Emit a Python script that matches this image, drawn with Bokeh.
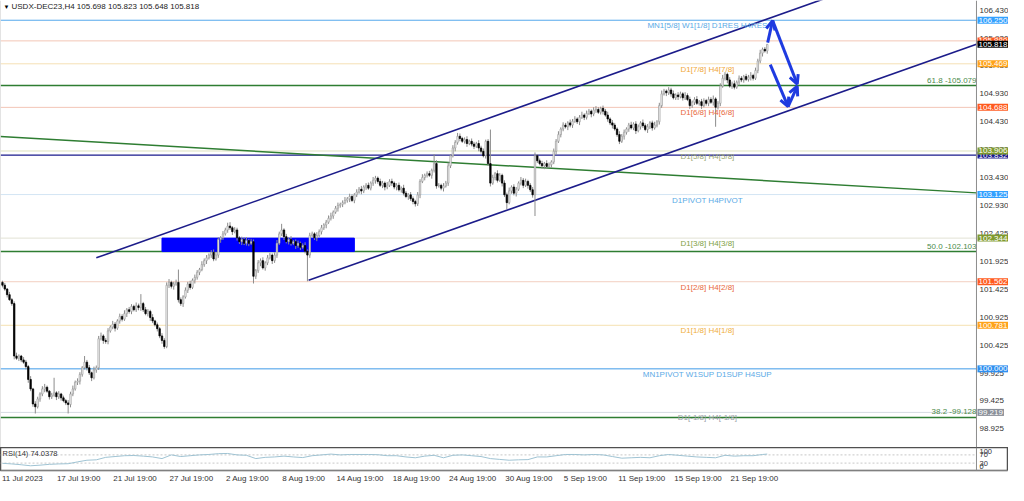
import numpy as np
from bokeh.plotting import figure
from bokeh.models import (ColumnDataSource, Range1d, FixedTicker, Label, Arrow, OpenHead, Span)
from bokeh.layouts import column
from bokeh.embed import file_html
from bokeh.resources import INLINE
from bokeh.core.properties import value

# ---------------- data ----------------
first_open = 101.55
closes = [
    101.50,101.43,101.33,101.24,101.17,100.23,100.19,100.23,100.16,100.12,100.04,99.81,99.64,99.37,99.32,99.46,99.55,99.64,99.67,99.60,
    99.50,99.53,99.57,99.50,99.55,99.48,99.43,99.39,99.36,99.55,99.64,99.76,99.78,99.90,100.02,100.12,100.02,99.93,99.84,99.98,
    100.02,100.54,100.59,100.51,100.49,100.68,100.75,100.80,100.73,100.86,100.94,100.89,100.99,101.06,101.03,101.12,101.06,101.13,101.10,101.17,
    101.06,100.99,101.03,100.92,100.86,100.79,100.72,100.59,100.51,100.40,101.50,101.55,101.48,101.52,101.55,101.24,101.17,101.29,101.41,101.52,
    101.46,101.59,101.64,101.73,101.78,101.87,101.94,101.99,102.04,102.09,101.97,102.04,102.32,102.35,102.42,102.49,102.56,102.53,102.46,102.49,
    102.35,102.28,102.32,102.25,102.30,102.25,102.28,101.66,101.76,101.90,101.94,101.81,101.90,101.99,102.04,101.94,102.04,102.25,102.42,102.49,
    102.37,102.28,102.32,102.25,102.28,102.21,102.25,102.18,102.21,102.11,102.04,102.39,102.42,102.35,102.39,102.46,102.53,102.58,102.63,102.70,
    102.74,102.81,102.88,102.93,102.95,102.98,103.02,103.05,103.09,103.02,103.12,103.17,103.22,103.19,103.26,103.29,103.24,103.33,103.38,103.42,
    103.36,103.29,103.33,103.26,103.29,103.36,103.33,103.26,103.29,103.21,103.24,103.15,103.09,103.12,103.05,103.00,102.96,103.12,103.36,103.43,
    103.47,103.50,103.47,103.56,103.68,103.28,103.29,103.24,103.28,103.33,103.64,103.82,103.96,104.06,104.17,104.13,104.08,104.11,104.04,104.08,
    104.03,103.99,104.04,103.96,103.90,103.82,104.08,103.68,103.33,103.43,103.50,103.38,103.47,103.33,103.12,102.98,103.19,103.26,103.15,103.22,
    103.33,103.38,103.29,103.36,103.29,103.21,103.12,103.82,103.73,103.68,103.64,103.68,103.63,103.66,103.71,103.90,104.08,104.20,104.30,104.37,
    104.34,104.41,104.37,104.44,104.48,104.43,104.51,104.55,104.51,104.58,104.62,104.57,104.64,104.65,104.60,104.67,104.62,104.55,104.48,104.41,
    104.37,104.30,104.20,104.08,104.17,104.24,104.30,104.37,104.32,104.39,104.27,104.34,104.41,104.36,104.29,104.34,104.41,104.32,104.37,104.43,
    104.72,104.93,104.98,104.95,105.00,104.93,104.86,104.91,104.88,104.93,104.86,104.90,104.83,104.72,104.78,104.83,104.76,104.79,104.72,104.81,
    104.76,104.83,104.78,104.84,104.69,104.76,105.07,105.21,105.28,105.18,105.07,105.11,105.05,105.14,105.21,105.18,105.24,105.19,105.23,105.26,
    105.21,105.35,105.52,105.66,105.73,105.70,105.818,
]
upper_wick = [
    0.03,0.04,0.02,0.05,0.03,0.04,0.06,0.03,0.02,0.05,0.04,0.03,0.06,0.02,0.05,0.04,0.03,0.05,0.06,0.03,
    0.02,0.04,0.27,0.03,0.05,0.02,0.04,0.03,0.05,0.04,0.06,0.03,0.05,0.04,0.03,0.11,0.04,0.05,0.02,0.06,
    0.04,0.05,0.06,0.03,0.04,0.05,0.03,0.06,0.04,0.03,0.05,0.04,0.06,0.03,0.05,0.04,0.03,0.06,0.04,0.17,
    0.03,0.05,0.04,0.03,0.06,0.02,0.04,0.03,0.05,0.04,0.05,0.06,0.03,0.04,0.05,0.23,0.04,0.03,0.05,0.04,
    0.06,0.03,0.05,0.04,0.03,0.06,0.04,0.05,0.03,0.04,0.05,0.06,0.04,0.03,0.05,0.04,0.06,0.07,0.03,0.05,
    0.04,0.03,0.05,0.04,0.06,0.03,0.05,0.04,0.03,0.05,0.04,0.06,0.03,0.05,0.04,0.03,0.05,0.06,0.04,0.11,
    0.03,0.05,0.04,0.06,0.03,0.04,0.05,0.03,0.04,0.06,0.03,0.05,0.04,0.03,0.06,0.04,0.05,0.03,0.04,0.05,
    0.06,0.03,0.04,0.05,0.03,0.04,0.06,0.03,0.05,0.04,0.03,0.05,0.04,0.06,0.03,0.04,0.05,0.03,0.06,0.04,
    0.03,0.05,0.04,0.03,0.06,0.04,0.05,0.03,0.04,0.05,0.03,0.06,0.04,0.03,0.05,0.04,0.03,0.05,0.04,0.06,
    0.03,0.04,0.05,0.03,0.17,0.06,0.04,0.03,0.05,0.04,0.06,0.03,0.05,0.04,0.06,0.05,0.03,0.04,0.06,0.03,
    0.05,0.04,0.03,0.06,0.04,0.05,0.03,0.04,0.61,0.05,0.03,0.06,0.04,0.03,0.05,0.04,0.06,0.03,0.05,0.04,
    0.03,0.06,0.04,0.05,0.03,0.04,0.05,0.06,0.03,0.04,0.05,0.03,0.06,0.04,0.03,0.05,0.04,0.06,0.03,0.05,
    0.04,0.03,0.06,0.04,0.05,0.03,0.04,0.06,0.03,0.05,0.04,0.03,0.05,0.06,0.04,0.03,0.05,0.04,0.06,0.03,
    0.05,0.04,0.03,0.06,0.04,0.05,0.03,0.04,0.06,0.03,0.05,0.04,0.03,0.06,0.04,0.05,0.03,0.04,0.06,0.03,
    0.05,0.06,0.04,0.03,0.05,0.04,0.06,0.03,0.05,0.04,0.03,0.06,0.04,0.05,0.03,0.04,0.06,0.03,0.05,0.04,
    0.03,0.05,0.04,0.06,0.03,0.04,0.05,0.06,0.04,0.03,0.05,0.04,0.06,0.03,0.05,0.04,0.03,0.05,0.04,0.06,
    0.03,0.05,0.04,0.06,0.03,0.04,0.005,
]
lower_wick = [
    0.04,0.03,0.05,0.02,0.04,0.06,0.03,0.05,0.04,0.03,0.05,0.06,0.04,0.05,0.12,0.03,0.05,0.04,0.06,0.03,
    0.05,0.04,0.03,0.06,0.04,0.05,0.03,0.04,0.16,0.05,0.04,0.03,0.05,0.06,0.04,0.03,0.05,0.04,0.06,0.03,
    0.05,0.04,0.03,0.06,0.04,0.05,0.03,0.04,0.06,0.03,0.05,0.04,0.03,0.06,0.04,0.05,0.03,0.04,0.05,0.06,
    0.04,0.03,0.05,0.06,0.04,0.03,0.05,0.04,0.06,0.04,0.03,0.05,0.04,0.06,0.03,0.05,0.04,0.06,0.03,0.05,
    0.04,0.03,0.06,0.04,0.05,0.03,0.04,0.06,0.03,0.05,0.04,0.03,0.05,0.06,0.04,0.03,0.05,0.04,0.06,0.03,
    0.05,0.04,0.06,0.03,0.04,0.05,0.03,0.13,0.05,0.04,0.06,0.03,0.05,0.04,0.03,0.06,0.04,0.05,0.03,0.04,
    0.06,0.03,0.05,0.04,0.03,0.06,0.04,0.05,0.03,0.04,0.47,0.05,0.03,0.04,0.06,0.03,0.05,0.04,0.06,0.03,
    0.04,0.05,0.03,0.06,0.04,0.05,0.03,0.04,0.06,0.03,0.05,0.04,0.03,0.06,0.04,0.05,0.03,0.04,0.05,0.06,
    0.04,0.03,0.05,0.06,0.04,0.03,0.05,0.04,0.06,0.03,0.05,0.04,0.03,0.06,0.04,0.05,0.05,0.04,0.06,0.03,
    0.05,0.04,0.03,0.06,0.04,0.05,0.03,0.04,0.06,0.03,0.05,0.04,0.03,0.06,0.04,0.05,0.03,0.04,0.06,0.03,
    0.04,0.05,0.03,0.06,0.04,0.03,0.05,0.04,0.06,0.03,0.05,0.04,0.03,0.06,0.04,0.12,0.03,0.05,0.04,0.06,
    0.03,0.04,0.05,0.03,0.06,0.04,0.05,0.38,0.04,0.03,0.05,0.06,0.04,0.03,0.05,0.04,0.06,0.03,0.05,0.04,
    0.03,0.06,0.04,0.05,0.03,0.04,0.06,0.03,0.05,0.04,0.03,0.06,0.04,0.05,0.03,0.04,0.06,0.03,0.05,0.04,
    0.06,0.03,0.04,0.05,0.03,0.06,0.04,0.05,0.03,0.04,0.06,0.03,0.05,0.04,0.03,0.06,0.04,0.05,0.03,0.04,
    0.05,0.04,0.03,0.06,0.04,0.05,0.03,0.04,0.06,0.03,0.05,0.04,0.03,0.06,0.04,0.05,0.03,0.04,0.06,0.03,
    0.04,0.05,0.03,0.06,0.35,0.04,0.05,0.03,0.04,0.06,0.03,0.05,0.04,0.03,0.06,0.04,0.05,0.03,0.04,0.06,
    0.04,0.03,0.05,0.04,0.06,0.03,0.05,
]

rsi_values = [29,26,22,17,20,24,26,27,36,44, 46,58,62,66,67,64,60,52,70,62,
              66,70,72,76,77,70,68,52,58,60, 64,60,57,66,70,74,70,72,72,72,
              71,66,66,60,56,64,68,56,68,70, 66,62,52,48,44,46,47,60,60,66,
              72,72,70,72,70,62,54,56,58,56, 66,72,68,64,60,58,56,68,64,66,
              66,72,74.04]
rsi_bars = list(range(0, 325, 4)) + [326]
rsi_top_tick, rsi_mid_ticks, rsi_bottom_tick = [100], [70, 30], [0]

date_ticks = [0, 24, 48, 72, 96, 120, 144, 168, 192, 216, 240, 264, 288, 312]
date_labels = ["11 Jul 2023", "17 Jul 19:00", "21 Jul 19:00", "27 Jul 19:00", "2 Aug 19:00",
               "8 Aug 19:00", "14 Aug 19:00", "18 Aug 19:00", "24 Aug 19:00", "30 Aug 19:00",
               "5 Sep 19:00", "11 Sep 19:00", "15 Sep 19:00", "21 Sep 19:00"]

price_ticks = [106.430, 105.930, 105.430, 104.930, 104.430, 103.930, 103.430, 102.930,
               102.425, 101.925, 101.425, 100.925, 100.425, 99.925, 99.425, 98.925]

level_prices = [106.250, 105.880, 105.469, 104.688, 103.906, 103.125, 102.344, 101.562, 100.781, 100.000, 99.219]
level_labels = ["MN1[5/8] W1[1/8] D1RES H4RES", "", "D1[7/8] H4[7/8]", "D1[6/8] H4[6/8]", "D1[5/8] H4[5/8]",
                "D1PIVOT H4PIVOT", "D1[3/8] H4[3/8]", "D1[2/8] H4[2/8]", "D1[1/8] H4[1/8]",
                "MN1PIVOT W1SUP D1SUP H4SUP", "D1[-1/8] H4[-1/8]"]
level_line_colors = ["#55a8ec", "#f3c6b6", "#f6e0b4", "#f3c6b6", "#dfe2bf", "#d3e5f4",
                     "#e2e2d4", "#f2cfc0", "#f5e1b0", "#3f9ae8", "#d5dbe2"]
level_text_colors = ["#5aaae6", "#e8683c", "#f0a838", "#e8683c", "#9aa874", "#5aaae6",
                     "#7f9f45", "#e8683c", "#f0b040", "#5aaae6", "#9aa0a8"]
level_tag_colors = ["#33a1ff", "#ff5a1f", "#ffa31a", "#ff5a1f", "#7f9a2f", "#33a1ff",
                    "#7f9a2f", "#ff5a1f", "#ffa31a", "#2f8ff0", "#8a8f99"]

fib_prices = [105.079, 102.103, 99.128]
fib_labels = ["61.8 -105.079", "50.0 -102.103", "38.2 -99.128"]

support_price = 103.832
last_price = 105.818

zone_bars = [68, 150]
zone_prices = [102.103, 102.344]

upper_channel_x = [40, 360]
upper_channel_y = [101.99, 106.78]
lower_channel_x = [130.5, 415.2]
lower_channel_y = [101.587, 105.820]
trend_x = [-0.84, 415.2]
trend_y = [104.165, 103.155]

arrow_x0 = [326.2, 328.3, 327.3, 334.9]
arrow_y0 = [105.850, 106.243, 105.454, 104.700]
arrow_x1 = [328.3, 338.8, 334.9, 338.8]
arrow_y1 = [106.243, 105.106, 104.700, 105.066]

# chart geometry (bar-index units): left edge, price-scale divider, right edge
X_LEFT, X_DIV, X_RIGHT = -0.84, 415.2, 428.85
LABEL_SHIFT = 8.5  # date labels start at their bar (MT4 style), axis centres them

# ---------------- derived candle table ----------------
n = len(closes)
assert len(upper_wick) == n and len(lower_wick) == n
opens = [first_open] + closes[:-1]
o = np.array(opens); c = np.array(closes)
tops = np.maximum(o, c); bots = np.minimum(o, c)
highs = tops + np.array(upper_wick); lows = bots - np.array(lower_wick)
bull = c >= o
src = ColumnDataSource(dict(x=list(range(n)), top=tops, bottom=bots, high=highs, low=lows,
                            fill=np.where(bull, "#ffffff", "#000000"),
                            line=np.where(bull, "#9a9a9a", "#000000")))

FONT = "Liberation Sans"
xr = Range1d(X_LEFT, X_RIGHT)

main = figure(width=1008, height=447, x_range=xr, y_range=Range1d(98.59, 106.604),
              x_axis_location=None, y_axis_location=None, toolbar_location=None,
              output_backend="svg", min_border_left=0, min_border_right=0,
              min_border_top=0, min_border_bottom=0)
main.grid.visible = False
main.outline_line_color = None
main.background_fill_color = "white"
main.border_fill_color = "white"

main.add_layout(Span(location=X_LEFT, dimension="height", line_color="#c8c8c8", line_width=1))

# horizontal levels
n_lv = len(level_prices)
main.segment(x0=[X_LEFT] * n_lv, x1=[X_DIV] * n_lv, y0=level_prices, y1=level_prices,
             line_color=level_line_colors, line_width=1)
main.segment(x0=[X_LEFT] * 3, x1=[X_DIV] * 3, y0=fib_prices, y1=fib_prices,
             line_color="#2e7d32", line_width=1.5)
main.segment(x0=[X_LEFT], x1=[X_DIV], y0=[support_price], y1=[support_price],
             line_color="#1a1a8c", line_width=1.3)

# blue zone rectangle
main.quad(left=[zone_bars[0]], right=[zone_bars[1]], bottom=[zone_prices[0]], top=[zone_prices[1]],
          fill_color="#0000ff", line_color="#0000ff")

# trend lines
main.line(trend_x, trend_y, line_color="#2e7d32", line_width=1.5)
main.line(upper_channel_x, upper_channel_y, line_color="#1c1c8a", line_width=1.6)
main.line(lower_channel_x, lower_channel_y, line_color="#1c1c8a", line_width=1.6)

# candles
main.segment(x0="x", y0="low", x1="x", y1="high", source=src, line_color="#8c8c8c", line_width=1)
main.vbar(x="x", width=0.62, top="top", bottom="bottom", source=src,
          fill_color="fill", line_color="line", line_width=0.7)

# level texts
lsrc = ColumnDataSource(dict(x=[300.5] * n_lv, y=level_prices, t=level_labels, c=level_text_colors))
main.text(x="x", y="y", text="t", text_color="c", source=lsrc, text_align="center",
          text_baseline="top", y_offset=1, text_font=value(FONT), text_font_size="8px")
fsrc = ColumnDataSource(dict(x=[X_DIV] * 3, y=fib_prices, t=fib_labels))
main.text(x="x", y="y", text="t", source=fsrc, text_color="#4a8a4a", text_align="right",
          text_baseline="bottom", y_offset=-1, text_font=value(FONT), text_font_size="8px")

# arrows
for x0, y0, x1, y1 in zip(arrow_x0, arrow_y0, arrow_x1, arrow_y1):
    main.add_layout(Arrow(x_start=x0, y_start=y0, x_end=x1, y_end=y1,
                          line_color="#1f3be0", line_width=3,
                          end=OpenHead(size=9, line_color="#1f3be0", line_width=3)))

# price scale (right side): divider, tick labels, coloured tags
main.add_layout(Span(location=X_DIV, dimension="height", line_color="#8c8c8c", line_width=1))
psrc = ColumnDataSource(dict(x=[X_DIV] * len(price_ticks), y=price_ticks,
                             t=["%.3f" % v for v in price_ticks]))
main.text(x="x", y="y", text="t", source=psrc, x_offset=3, text_align="left",
          text_baseline="middle", text_color="#333333", text_font=value(FONT), text_font_size="8px")


def tag(pr, bg, txt):
    main.add_layout(Label(x=X_DIV, y=pr, x_offset=1, text=txt, text_align="left",
                          text_baseline="middle", text_color="white", text_font=FONT,
                          text_font_size="8px", background_fill_color=bg, padding=1))


tag(support_price, "#1a1a8c", "%.3f" % support_price)
for pr, bg in zip(level_prices, level_tag_colors):
    tag(pr, bg, "%.3f" % pr)
tag(last_price, "#000000", "%.3f" % last_price)

main.add_layout(Label(x=X_LEFT, y=106.604, x_offset=3, y_offset=-3, text="\u25bc",
                      text_baseline="top", text_font=FONT, text_font_size="6px", text_color="#000000"))
main.add_layout(Label(x=X_LEFT, y=106.604, x_offset=11, y_offset=-1,
                      text="USDX-DEC23,H4  105.698 105.823 105.648 105.818",
                      text_baseline="top", text_font=FONT, text_font_size="8px", text_color="#222222"))

# ---------------- RSI panel ----------------
rsi = figure(width=1008, height=38, x_range=xr, y_range=Range1d(-6, 106),
             y_axis_location=None, toolbar_location=None, output_backend="svg",
             min_border_left=0, min_border_right=0, min_border_top=0, min_border_bottom=0)
rsi.grid.visible = False
rsi.outline_line_color = "#505050"
rsi.outline_line_width = 1.5
rsi.segment(x0=[X_LEFT, X_LEFT], x1=[X_DIV, X_DIV], y0=[70, 30], y1=[70, 30],
            line_color="#c8c8c8", line_width=1, line_dash="2 2")
rsi.add_layout(Span(location=X_DIV, dimension="height", line_color="#8c8c8c", line_width=1))
rsi.line(rsi_bars, rsi_values, line_color="#9fc3d3", line_width=1)
rsi.add_layout(Label(x=X_LEFT, y=106, x_offset=2, y_offset=-1, text="RSI(14) 74.0378", text_baseline="top",
                     text_font=FONT, text_font_size="7.5px", text_color="#333333"))
for ticks, base in ((rsi_top_tick, "top"), (rsi_mid_ticks, "middle"), (rsi_bottom_tick, "bottom")):
    rsrc = ColumnDataSource(dict(x=[X_DIV] * len(ticks), y=ticks, t=[str(v) for v in ticks]))
    rsi.text(x="x", y="y", text="t", source=rsrc, x_offset=3, text_align="left",
             text_baseline=base, text_color="#333333", text_font=value(FONT), text_font_size="7.5px")

xa = rsi.xaxis[0]
shifted = [t + LABEL_SHIFT for t in date_ticks]
xa.ticker = FixedTicker(ticks=shifted)
xa.major_label_overrides = {t: l for t, l in zip(shifted, date_labels)}
xa.major_label_text_font = FONT
xa.major_label_text_font_size = "8px"
xa.major_label_text_color = "#333333"
xa.major_tick_out = 0
xa.major_tick_in = 0
xa.minor_tick_out = 0
xa.minor_tick_in = 0
xa.major_label_standoff = 3
xa.axis_line_color = "#808080"

layout = column(main, rsi, spacing=0)
open("out.html", "w").write(file_html(layout, INLINE))
